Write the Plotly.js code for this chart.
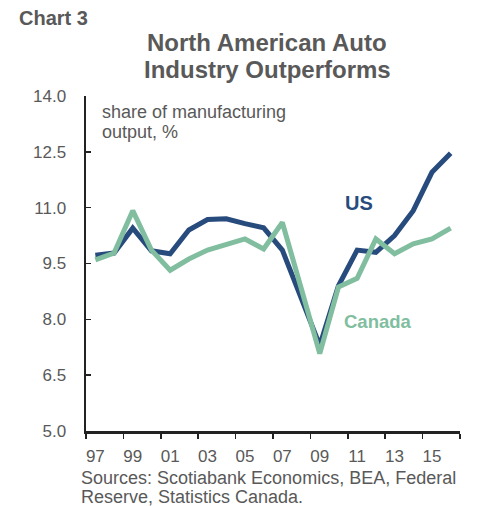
<!DOCTYPE html>
<html>
<head>
<meta charset="utf-8">
<script src="https://cdn.plot.ly/plotly-3.0.1.min.js"></script>
<style>
  html, body { margin: 0; padding: 0; background: #fff; }
  #chart { width: 482px; height: 506px; }
</style>
</head>
<body>
<div id="chart"></div>
<script>
const years = [1997, 1998, 1999, 2000, 2001, 2002, 2003, 2004, 2005, 2006,
               2007, 2008, 2009, 2010, 2011, 2012, 2013, 2014, 2015, 2016];
const usShare = [9.72, 9.78, 10.45, 9.84, 9.76, 10.40, 10.68, 10.70, 10.57, 10.46,
                 9.86, 8.58, 7.30, 8.90, 9.86, 9.80, 10.25, 10.92, 11.95, 12.46];
const canadaShare = [9.60, 9.78, 10.92, 9.86, 9.32, 9.62, 9.86, 10.00, 10.16, 9.89,
                     10.60, 8.85, 7.08, 8.87, 9.10, 10.16, 9.76, 10.03, 10.16, 10.45];
const xTickVals = [1997, 1999, 2001, 2003, 2005, 2007, 2009, 2011, 2013, 2015];
const xTickText = ['97', '99', '01', '03', '05', '07', '09', '11', '13', '15'];
const yTickVals = [5.0, 6.5, 8.0, 9.5, 11.0, 12.5, 14.0];
const titleLines = ['North American Auto', 'Industry Outperforms'];
const unitLines = ['share of manufacturing', 'output, %'];
const sourceLines = ['Sources: Scotiabank Economics, BEA, Federal', 'Reserve, Statistics Canada.'];

const usColor = '#274b7d';
const caColor = '#80be9f';
const textGrey = '#595959';
const font = 'Arial, "Liberation Sans", sans-serif';

const traces = [
  { x: years, y: usShare, type: 'scatter', mode: 'lines', name: 'US',
    line: { color: usColor, width: 5 } },
  { x: years, y: canadaShare, type: 'scatter', mode: 'lines', name: 'Canada',
    line: { color: caColor, width: 5 } }
];

function txt(x, y, text, size, color, xanchor, bold, family) {
  return { xref: 'paper', yref: 'paper', x: x, y: y, xanchor: xanchor, yanchor: 'middle',
           text: bold ? '<b>' + text + '</b>' : text, showarrow: false,
           font: { family: family || font, size: size, color: color } };
}

const layout = {
  width: 482, height: 506,
  margin: { l: 86, r: 22, t: 96, b: 75 },
  paper_bgcolor: '#ffffff', plot_bgcolor: '#ffffff',
  showlegend: false,
  font: { family: font, size: 17, color: textGrey },
  xaxis: {
    type: 'linear', range: [1996.5, 2016.5],
    tickmode: 'array', tickvals: xTickVals, ticktext: xTickText,
    ticks: '', showgrid: false, zeroline: false,
    ticklabelstandoff: 8,
    showline: true, linecolor: '#222', linewidth: 2.5,
    tickfont: { family: font, size: 17, color: textGrey },
    minor: { tick0: 1996.5, dtick: 2, ticks: 'outside', ticklen: 5, tickwidth: 1.5, tickcolor: '#222', showgrid: false },
    fixedrange: true
  },
  yaxis: {
    range: [5, 14],
    tickmode: 'array', tickvals: yTickVals, tickformat: '.1f',
    ticks: 'inside', ticklen: 5, tickwidth: 1.5, tickcolor: '#222',
    ticklabelstandoff: 14,
    showgrid: false, zeroline: false,
    showline: true, linecolor: '#222', linewidth: 2.5,
    tickfont: { family: font, size: 17, color: textGrey },
    fixedrange: true
  },
  annotations: [
    txt(-0.1845, 1.234, 'Chart 3', 20, textGrey, 'left', true, '"Liberation Sans Narrow", "Arial Narrow", Arial, sans-serif'),
    txt(0.484, 1.161, titleLines[0], 24, textGrey, 'center', true),
    txt(0.484, 1.078, titleLines[1], 24, textGrey, 'center', true),
    txt(0.0374, 0.951, unitLines[0], 18, textGrey, 'left', false),
    txt(0.0374, 0.893, unitLines[1], 18, textGrey, 'left', false),
    txt(-0.0187, -0.140, sourceLines[0], 18, textGrey, 'left', false),
    txt(-0.0187, -0.197, sourceLines[1], 18, textGrey, 'left', false),
    { xref: 'x', yref: 'y', x: 2011.1, y: 11.13, xanchor: 'center', yanchor: 'middle',
      text: '<b>US</b>', showarrow: false,
      font: { family: font, size: 20, color: usColor } },
    { xref: 'x', yref: 'y', x: 2012.1, y: 7.93, xanchor: 'center', yanchor: 'middle',
      text: '<b>Canada</b>', showarrow: false,
      font: { family: font, size: 18.5, color: caColor } }
  ]
};

Plotly.newPlot('chart', traces, layout, { displayModeBar: false, staticPlot: true });
</script>
</body>
</html>
